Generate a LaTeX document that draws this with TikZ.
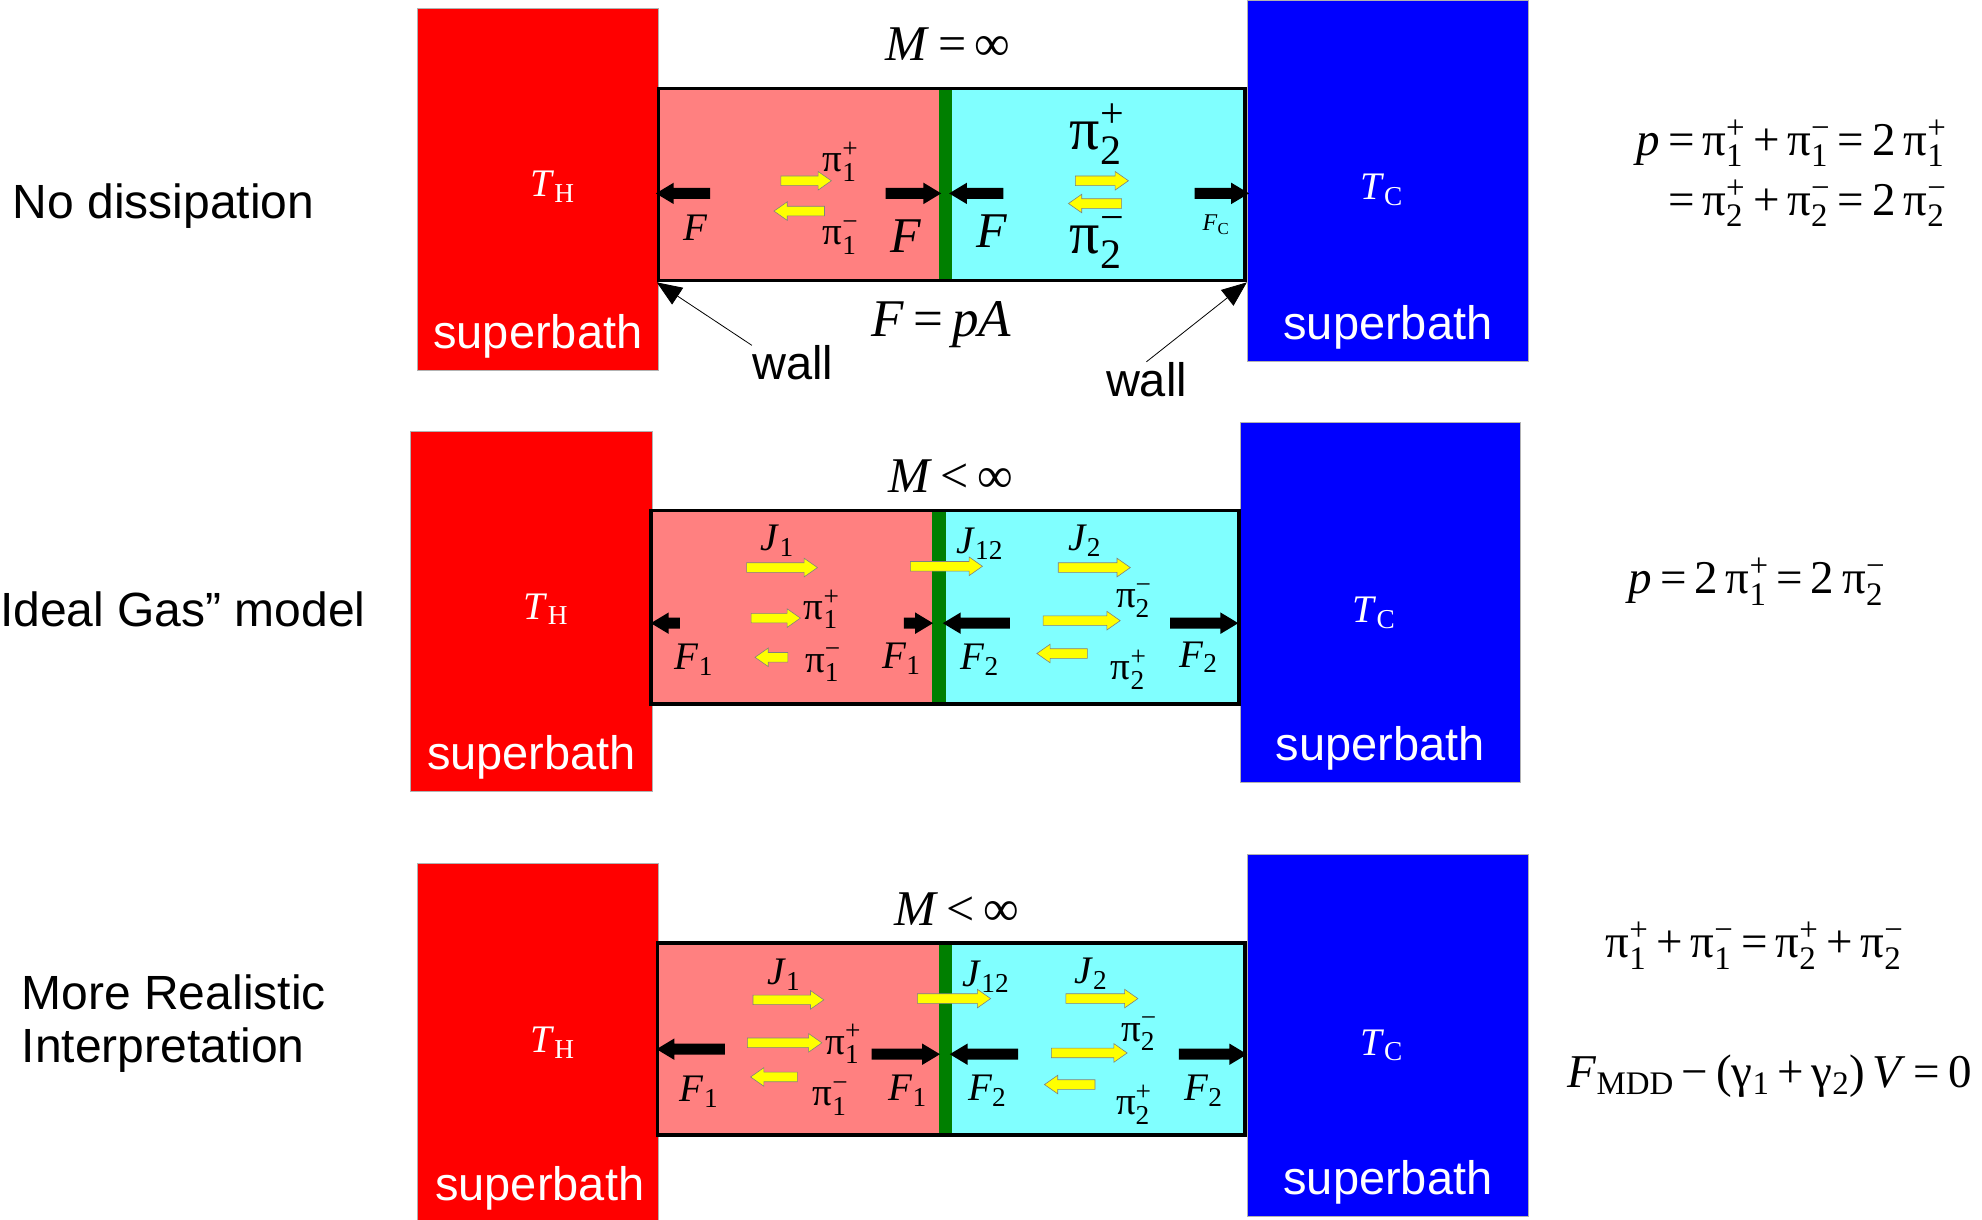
\RequirePackage{fix-cm}
\documentclass[tikz,border=0pt]{standalone}
\usepackage{amsmath}
\usepackage{fontspec}
\setmainfont{Liberation Serif}
\setsansfont{Liberation Sans}
\usetikzlibrary{arrows.meta}
\usetikzlibrary{positioning}
\usetikzlibrary{shapes.arrows}
\usetikzlibrary{fit}
\usepackage{xcolor}
\definecolor{hotred}{HTML}{FF0000}
\definecolor{coldblue}{HTML}{0000FF}
\definecolor{hotgas}{HTML}{FF8080}
\definecolor{coldgas}{HTML}{80FFFF}
\definecolor{piston}{HTML}{007F00}
\definecolor{flux}{HTML}{FFFF00}
\newcommand\pimom[2]{π$^{\text{#2}}_{\text{#1}}$}
\newcommand\isub[2]{\textit{#1}$_{\text{#2}}$}

\begin{document}
\begin{tikzpicture}[
    x=1.264pt, y=-1.264pt,
    bath/.style={inner sep=0, draw=gray!60, line width=0.8pt},
    hot/.style={bath, fill=hotred},
    cold/.style={bath, fill=coldblue},
    gas/.style={inner sep=0},
    tube/.style={inner sep=0, draw=black, line width=3.5pt},
    bathtext/.style={text=white, font=\sffamily\fontsize{47}{56}\selectfont, inner sep=0},
    temp/.style={text=white, font=\fontsize{39}{46}\selectfont, inner sep=0},
    sym/.style={font=\fontsize{39}{46}\selectfont, inner sep=0},
    bigsym/.style={font=\fontsize{50}{60}\selectfont, inner sep=0},
    hugesym/.style={font=\fontsize{60}{70}\selectfont, inner sep=0},
    smallsym/.style={font=\fontsize{24}{30}\selectfont, inner sep=0},
    eq/.style={font=\fontsize{47}{60}\selectfont, inner sep=0, align=right},
    caption/.style={font=\sffamily\fontsize{48}{53}\selectfont, inner sep=0, anchor=west, align=left},
    walltext/.style={font=\sffamily\fontsize{47}{53}\selectfont, inner sep=0},
    push/.style={single arrow, fill=black, inner xsep=0, inner ysep=5.3pt,
      single arrow head extend=5.2pt, single arrow tip angle=62, minimum height=#1*1.264pt},
    pull/.style={push=#1, shape border rotate=180},
    jet/.style={single arrow, fill=flux, draw=gray, line width=0.6pt, inner xsep=0,
      inner ysep=4.5pt, single arrow head extend=4.5pt, single arrow tip angle=70,
      minimum height=#1*1.264pt},
    jetback/.style={jet=#1, shape border rotate=180},
    pointer/.style={-{Triangle[length=25pt,width=20pt]}, line width=0.8pt},
  ]
  \useasboundingbox (0,0) rectangle (1568,965);

  % row 1: no dissipation
  \node[hot, fit={(330,7) (521,293)}] (hotA) {};
  \node[cold, fit={(987,0) (1209,286)}] (coldA) {};
  \node[gas, fill=hotgas, fit={(521,70) (743,222)}] (gasA1) {};
  \node[gas, fill=coldgas, fit={(753,70) (985,222)}] (gasA2) {};
  \node[gas, fill=piston, fit={(743,70) (753,222)}] (pistonA) {};
  \node[tube, fit={(521,70) (985,222)}] (tubeA) {};
  \node[temp] (thA) at (437,148) {\isub{T}{H}};
  \node[bathtext, above=12pt of hotA.south] (sbA1) {superbath};
  \node[temp] (tcA) at (1093,150) {\isub{T}{C}};
  \node[bathtext, above=12pt of coldA.south] (sbA2) {superbath};
  \node[bigsym] (massA) at (750,35) {\textit{M}\,=\,∞};
  \node[bigsym, font=\fontsize{53}{60}\selectfont] (lawA) at (745,257) {\textit{F}\,=\,\textit{pA}};
  \node[walltext] (wallA1) at (627,287) {wall};
  \node[walltext] (wallA2) at (907,300) {wall};
  \draw[pointer] (wallA1.north west) -- (tubeA.south west);
  \draw[pointer] (wallA2.north) -- (tubeA.south east);

  \node[pull=43] (fA1) at (544,153) {};
  \node[push=44] (fA2) at (719,153) {};
  \node[pull=43] (fA3) at (776,153) {};
  \node[push=43] (fA4) at (963,153) {};
  \node[jet=40] (jA1) at (635,143) {};
  \node[jetback=40] (jA2) at (635,167) {};
  \node[jet=42] (jA3) at (869,143) {};
  \node[jetback=42] (jA4) at (869,161) {};
  \node[sym] (lfA1) at (550,180) {\textit{F}};
  \node[sym] (lpA1) at (665,128) {\pimom{1}{+}};
  \node[sym] (lpA2) at (665,188) {\pimom{1}{−}};
  \node[bigsym] (lfA2) at (717,187) {\textit{F}};
  \node[bigsym] (lfA3) at (785,183) {\textit{F}};
  \node[hugesym] (lpA3) at (868,106) {\pimom{2}{+}};
  \node[hugesym] (lpA4) at (868,192) {\pimom{2}{−}};
  \node[smallsym] (lfA4) at (962,178) {\isub{F}{C}};
  \node[caption] (rowA) at (10,163) {No dissipation};
  \node[eq, anchor=east] (eqA) at (1540,137)
    {\textit{p}\,=\,\pimom{1}{+}\,+\,\pimom{1}{−}\,=\,2\,\pimom{1}{+}\\
     =\,\pimom{2}{+}\,+\,\pimom{2}{−}\,=\,2\,\pimom{2}{−}};

  % row 2: ideal gas model
  \node[hot, fit={(325,341) (516,626)}] (hotB) {};
  \node[cold, fit={(981,334) (1203,619)}] (coldB) {};
  \node[gas, fill=hotgas, fit={(515,404) (737,557)}] (gasB1) {};
  \node[gas, fill=coldgas, fit={(748,404) (980,557)}] (gasB2) {};
  \node[gas, fill=piston, fit={(737,404) (748,557)}] (pistonB) {};
  \node[tube, fit={(515,404) (980,557)}] (tubeB) {};
  \node[temp] (thB) at (432,482) {\isub{T}{H}};
  \node[bathtext, above=12pt of hotB.south] (sbB1) {superbath};
  \node[temp] (tcB) at (1087,485) {\isub{T}{C}};
  \node[bathtext, above=12pt of coldB.south] (sbB2) {superbath};
  \node[bigsym] (massB) at (752,377) {\textit{M}\,<\,∞};

  \node[pull=23] (fB1) at (530,493) {};
  \node[push=23] (fB2) at (723,493) {};
  \node[pull=53] (fB3) at (776,493) {};
  \node[push=54] (fB4) at (949,493) {};
  \node[jet=56] (jB1) at (616,449) {};
  \node[jet=57] (jB2) at (746,448) {};
  \node[jet=57] (jB3) at (863,449) {};
  \node[jet=39] (jB4) at (611,489) {};
  \node[jetback=26] (jB5) at (613,520) {};
  \node[jet=61] (jB6) at (853,491) {};
  \node[jetback=40] (jB7) at (843,517) {};
  \node[sym] (ljB1) at (615,428) {\isub{J}{1}};
  \node[sym] (ljB2) at (775,430) {\isub{J}{12}};
  \node[sym] (ljB3) at (858,428) {\isub{J}{2}};
  \node[sym] (lfB1) at (549,522) {\isub{F}{1}};
  \node[sym] (lpB1) at (650,482) {\pimom{1}{+}};
  \node[sym] (lpB2) at (651,526) {\pimom{1}{−}};
  \node[sym] (lfB2) at (713,521) {\isub{F}{1}};
  \node[sym] (lfB3) at (775,522) {\isub{F}{2}};
  \node[sym] (lpB3) at (897,475) {\pimom{2}{−}};
  \node[sym] (lpB4) at (893,530) {\pimom{2}{+}};
  \node[sym] (lfB4) at (948,520) {\isub{F}{2}};
  \node[caption] (rowB) at (0,482) {Ideal Gas” model};
  \node[eq] (eqB) at (1390,460) {\textit{p}\,=\,2\,\pimom{1}{+}\,=\,2\,\pimom{2}{−}};

  % row 3: more realistic interpretation
  \node[hot, fit={(330,683) (521,968)}] (hotC) {};
  \node[cold, fit={(987,676) (1209,962)}] (coldC) {};
  \node[gas, fill=hotgas, fit={(520,746) (743,898)}] (gasC1) {};
  \node[gas, fill=coldgas, fit={(753,746) (985,898)}] (gasC2) {};
  \node[gas, fill=piston, fit={(743,746) (753,898)}] (pistonC) {};
  \node[tube, fit={(520,746) (985,898)}] (tubeC) {};
  \node[temp] (thC) at (437,825) {\isub{T}{H}};
  \node[bathtext] (sbC1) at (427,940) {superbath};
  \node[temp] (tcC) at (1093,827) {\isub{T}{C}};
  \node[bathtext, above=12pt of coldC.south] (sbC2) {superbath};
  \node[bigsym] (massC) at (757,719) {\textit{M}\,<\,∞};

  \node[pull=54] (fC1) at (550,830) {};
  \node[push=54] (fC2) at (713,834) {};
  \node[pull=54] (fC3) at (782,834) {};
  \node[push=54] (fC4) at (956,834) {};
  \node[jet=56] (jC1) at (621,791) {};
  \node[jet=58] (jC2) at (752,790) {};
  \node[jet=57] (jC3) at (869,790) {};
  \node[jet=59] (jC4) at (618,825) {};
  \node[jetback=37] (jC5) at (615,852) {};
  \node[jet=60] (jC6) at (859,833) {};
  \node[jetback=40] (jC7) at (849,858) {};
  \node[sym] (ljC1) at (620,771) {\isub{J}{1}};
  \node[sym] (ljC2) at (780,773) {\isub{J}{12}};
  \node[sym] (ljC3) at (863,770) {\isub{J}{2}};
  \node[sym] (lfC1) at (553,864) {\isub{F}{1}};
  \node[sym] (lpC1) at (667,826) {\pimom{1}{+}};
  \node[sym] (lpC2) at (657,869) {\pimom{1}{−}};
  \node[sym] (lfC2) at (718,863) {\isub{F}{1}};
  \node[sym] (lfC3) at (781,863) {\isub{F}{2}};
  \node[sym] (lpC3) at (901,818) {\pimom{2}{−}};
  \node[sym] (lpC4) at (897,874) {\pimom{2}{+}};
  \node[sym] (lfC4) at (952,863) {\isub{F}{2}};
  \node[caption] (rowC) at (17,810) {More Realistic\\Interpretation};
  \node[eq] (eqC1) at (1388,748)
    {\pimom{1}{+}\,+\,\pimom{1}{−}\,=\,\pimom{2}{+}\,+\,\pimom{2}{−}};
  \node[eq] (eqC2) at (1400,851)
    {\isub{F}{MDD}\,−\,(γ$_{\text{1}}$\,+\,γ$_{\text{2}}$)\,\textit{V}\,=\,0};
\end{tikzpicture}
\end{document}
